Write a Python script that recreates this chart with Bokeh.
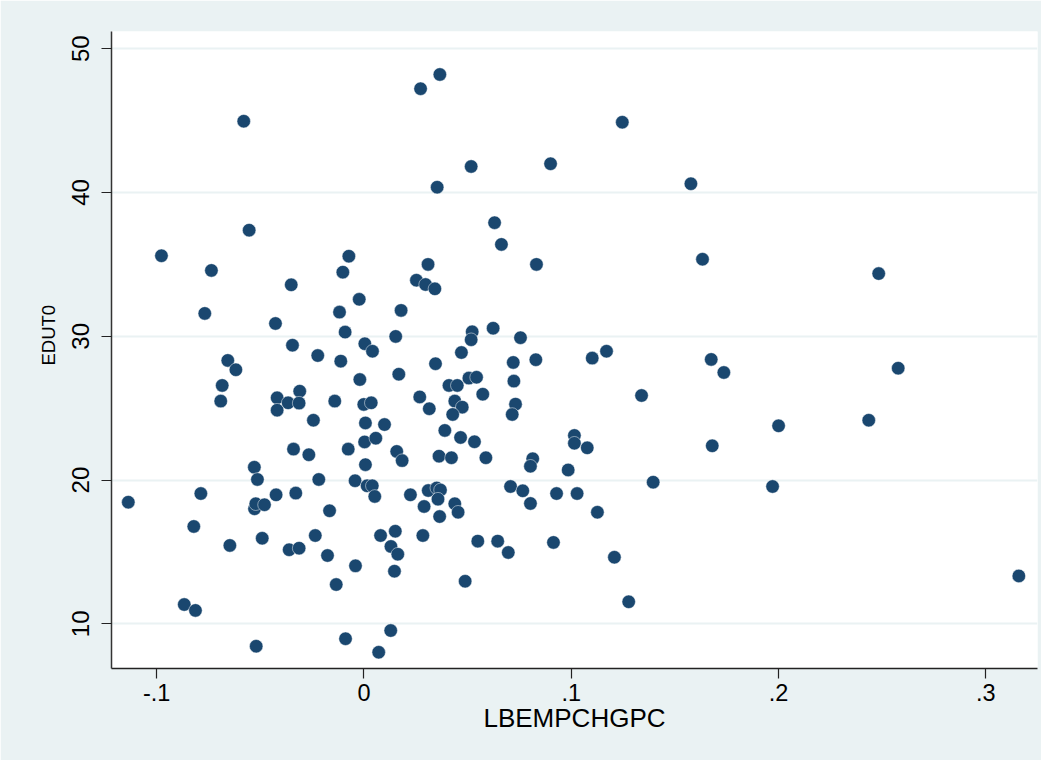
from bokeh.plotting import figure
from bokeh.models import Range1d, FixedTicker, Title
from bokeh.embed import file_html
from bokeh.resources import INLINE

lbempchgpc = [
    -0.0580, 0.0273, 0.0366, 0.0353, -0.0554, -0.0977, -0.0073, 0.1246, 0.0517, 0.0900, 0.1577, 0.0630, 0.0663,
    -0.0102, -0.0736, -0.0351, 0.0309, 0.0253, 0.0297, 0.0342, -0.0023, -0.0118, 0.0179, -0.0768, -0.0427, -0.0091,
    0.0153, -0.0345, 0.0004, 0.0041, -0.0223, -0.0112, 0.0345, -0.0657, -0.0618, -0.0020, 0.0168, -0.0684, 0.0410,
    0.0269, -0.0310, -0.0419, -0.0366, -0.0313, -0.0419, -0.0691, -0.0141, -0.0001, 0.0035, 0.0315, -0.0244, 0.0007,
    0.0099, 0.0390, 0.0003, 0.0057, -0.0340, -0.0266, -0.0076, 0.0158, 0.0184, 0.0362, -0.0529, 0.0007,
    -0.0514, -0.0218, -0.0043, 0.0015, 0.0040, 0.0052, 0.0224, 0.0310, 0.0351, 0.0369, 0.0357, 0.0290, 0.0365,
    -0.1137, -0.0787, -0.0821, -0.0647, -0.0528, -0.0522, -0.0480, -0.0424, -0.0329, -0.0166, -0.0491, -0.0361,
    -0.0313, -0.0235, -0.0176, -0.0041, -0.0134, 0.0080, 0.0151, 0.0130, 0.0163, 0.0147, 0.0284, -0.0867, -0.0813,
    -0.0520, -0.0089, 0.0129, 0.0071,
    0.0832, 0.1633, 0.0522, 0.0517, 0.0623, 0.0755, 0.0470, 0.0720, 0.0829, 0.1101, 0.1170, 0.0723, 0.0450, 0.0506,
    0.0543, 0.0573, 0.0438, 0.0474, 0.0428, 0.0731, 0.0715, 0.1339, 0.0466, 0.0533, 0.1015, 0.1015, 0.1077, 0.0422,
    0.0588, 0.0814, 0.0803,
    0.0985, 0.1395, 0.0438, 0.0454, 0.0707, 0.0766, 0.0803, 0.0929, 0.1028, 0.1126, 0.0549, 0.0645, 0.0696, 0.0914,
    0.1208, 0.1277, 0.0488,
    0.1675, 0.1736, 0.2483, 0.2577, 0.2000, 0.2435, 0.1680, 0.1971, 0.3159,
]

edut0 = [
    44.96, 47.22, 48.21, 40.37, 37.38, 35.60, 35.57, 44.89, 41.81, 42.00, 40.61, 37.90, 36.39,
    34.46, 34.58, 33.58, 35.00, 33.90, 33.60, 33.30, 32.57, 31.68, 31.80, 31.59, 30.89, 30.29,
    29.99, 29.38, 29.48, 28.96, 28.66, 28.27, 28.09, 28.32, 27.67, 26.99, 27.36, 26.58, 26.58,
    25.78, 26.18, 25.72, 25.37, 25.35, 24.86, 25.49, 25.49, 25.26, 25.37, 24.96, 24.16, 23.97,
    23.86, 23.45, 22.65, 22.91, 22.15, 21.76, 22.15, 21.99, 21.35, 21.66, 20.89, 21.07,
    20.04, 20.04, 19.95, 19.60, 19.60, 18.86, 18.97, 19.27, 19.45, 19.31, 18.67, 18.16, 17.46,
    18.46, 19.06, 16.77, 15.45, 18.00, 18.35, 18.28, 18.97, 19.09, 17.86, 15.95, 15.15,
    15.26, 16.14, 14.75, 14.03, 12.73, 16.14, 16.44, 15.38, 14.84, 13.66, 16.14, 11.34, 10.93,
    8.44, 8.96, 9.53, 8.02,
    35.00, 35.36, 30.31, 29.76, 30.56, 29.90, 28.87, 28.18, 28.37, 28.48, 28.96, 26.88, 26.58, 27.09,
    27.15, 25.97, 25.49, 25.07, 24.56, 25.28, 24.56, 25.88, 22.96, 22.66, 23.10, 22.56, 22.24, 21.55,
    21.55, 21.48, 20.96,
    20.70, 19.85, 18.35, 17.76, 19.55, 19.25, 18.37, 19.06, 19.06, 17.76, 15.75, 15.75, 14.96, 15.66,
    14.63, 11.53, 12.96,
    28.39, 27.48, 34.36, 27.78, 23.77, 24.16, 22.38, 19.55, 13.33,
]

x_ticks = [-0.1, 0.0, 0.1, 0.2, 0.3]
x_tick_labels = ["-.1", "0", ".1", ".2", ".3"]
y_ticks = [10, 20, 30, 40, 50]
x_title = "LBEMPCHGPC"
y_title = "EDUT0"

FONT = "Liberation Sans"
BG = "#EAF2F3"

p = figure(
    width=1041, height=760,
    output_backend="svg", toolbar_location=None,
    x_range=Range1d(-0.1218, 0.3249), y_range=Range1d(6.89, 51.2),
    min_border_left=111, min_border_right=4, min_border_top=31, min_border_bottom=92,
)
p.border_fill_color = BG
p.background_fill_color = "white"
p.outline_line_color = None

p.scatter(lbempchgpc, edut0, size=13.5, fill_color="#1A476F",
          line_color="white", line_width=0.6, line_alpha=0.8)

# grid
p.xgrid.grid_line_color = None
p.ygrid.grid_line_color = BG
p.ygrid.grid_line_width = 2
p.ygrid.ticker = FixedTicker(ticks=y_ticks)

# x axis
xa = p.xaxis[0]
xa.ticker = FixedTicker(ticks=x_ticks)
xa.major_label_overrides = {t: l for t, l in zip(x_ticks, x_tick_labels)}
xa.axis_label = x_title
xa.axis_label_text_font = FONT
xa.axis_label_text_font_size = "26px"
xa.axis_label_text_font_style = "normal"
xa.axis_label_text_color = "black"
xa.axis_label_standoff = -1
xa.major_label_text_font = FONT
xa.major_label_text_font_size = "23.5px"
xa.major_label_text_color = "black"
xa.major_label_standoff = 5
xa.major_tick_out = 10
xa.major_tick_in = 0
xa.minor_tick_out = 0
xa.minor_tick_in = 0
xa.axis_line_color = "#222222"
xa.axis_line_width = 1.5
xa.major_tick_line_color = "#222222"
xa.major_tick_line_width = 1.2

# y axis
ya = p.yaxis[0]
ya.ticker = FixedTicker(ticks=y_ticks)
ya.major_label_text_font = FONT
ya.major_label_text_font_size = "24px"
ya.major_label_text_color = "black"
ya.major_label_orientation = "vertical"
ya.major_label_standoff = 12
ya.major_tick_out = 10
ya.major_tick_in = 0
ya.minor_tick_out = 0
ya.minor_tick_in = 0
ya.axis_line_color = "#333333"
ya.axis_line_width = 1.5
ya.major_tick_line_color = "#222222"
ya.major_tick_line_width = 1.2

# y-axis title as a side title, placed so it is centred on the tick range (Stata style)
p.add_layout(Title(
    text=y_title, align="left", offset=303, standoff=22,
    text_font=FONT, text_font_size="18.5px", text_font_style="normal",
    text_color="black",
), "left")

open("out.html", "w").write(file_html(p, INLINE))
